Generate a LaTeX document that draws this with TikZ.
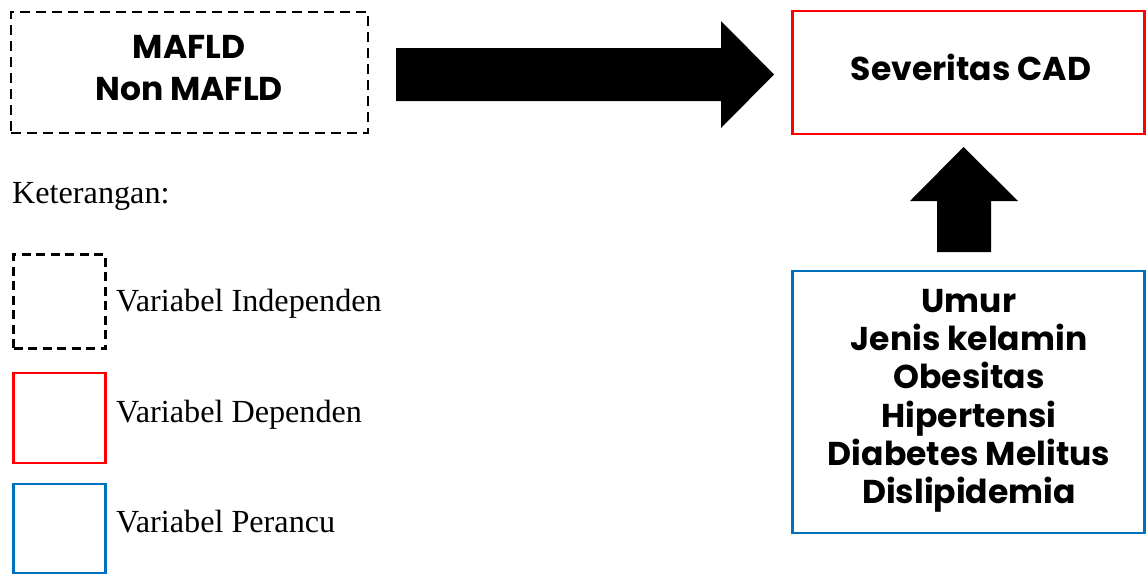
\documentclass[tikz,border=0pt]{standalone}
\usepackage{fontspec}
\setmainfont{Liberation Serif}
\newfontfamily\popp{Poppins}
\definecolor{depred}{RGB}{255,0,0}
\definecolor{conblue}{RGB}{0,112,192}
\begin{document}
\begin{tikzpicture}[x=1pt,y=-1pt,
  box/.style={draw,inner sep=0pt,line width=2.5pt},
  indep/.style={box,black,dash pattern=on 10pt off 6pt},
  legindep/.style={box,black,dash pattern=on 9pt off 5.5pt},
  dep/.style={box,depred},
  conf/.style={box,conblue},
  boldtxt/.style={font=\popp\bfseries\fontsize{33}{38}\selectfont,anchor=base,inner sep=0pt},
  legtxt/.style={font=\fontsize{32.2}{36}\selectfont,anchor=base west,inner sep=0pt},
  blockarrow/.style={fill=black,draw=none}]
\useasboundingbox (0,0) rectangle (1146,574);
% main boxes
\node[indep,minimum width=357pt,minimum height=121pt] (ind) at (189.5,72.5) {};
\node[dep,minimum width=352pt,minimum height=123pt] (dv) at (968.5,72.5) {};
\node[conf,minimum width=352pt,minimum height=262pt] (cf) at (968.5,402) {};
% texts
\node[boldtxt] (t1) at (189,58) {MAFLD};
\node[boldtxt] (t2) at (189,100) {Non MAFLD};
\node[boldtxt] (t3) at (971,80) {Severitas CAD};
\node[boldtxt] (c1) at (969,312) {Umur};
\node[boldtxt] (c2) at (969,350) {Jenis kelamin};
\node[boldtxt] (c3) at (969,388.5) {Obesitas};
\node[boldtxt] (c4) at (969,427) {Hipertensi};
\node[boldtxt] (c5) at (969,465) {Diabetes Melitus};
\node[boldtxt] (c6) at (969,503) {Dislipidemia};
% block arrows
\fill[blockarrow] (396,48) -- (721,48) -- (721,21) -- (774,74.5) -- (721,128) -- (721,101) -- (396,101) -- cycle;
\fill[blockarrow] (937,252) -- (937,201) -- (910,201) -- (963.5,147) -- (1018,201) -- (991,201) -- (991,252) -- cycle;
% legend
\node[legtxt] (ket) at (12,203) {Keterangan:};
\node[legindep,minimum width=92pt,minimum height=94pt] (l1) at (59.5,301.5) {};
\node[dep,minimum width=92pt,minimum height=90pt] (l2) at (59.5,418) {};
\node[conf,minimum width=92pt,minimum height=89pt] (l3) at (59.5,528.5) {};
\node[legtxt] (lt1) at (116,311) {Variabel Independen};
\node[legtxt] (lt2) at (116,422) {Variabel Dependen};
\node[legtxt] (lt3) at (116,532) {Variabel Perancu};
\end{tikzpicture}
\end{document}
